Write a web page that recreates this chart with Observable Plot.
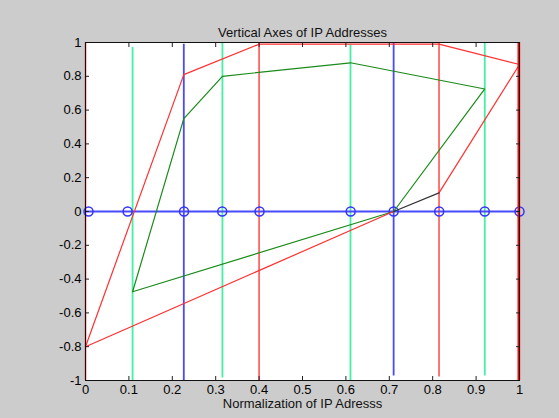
<!DOCTYPE html>
<html>
<head>
<meta charset="utf-8">
<script src="https://cdn.jsdelivr.net/npm/d3@7"></script>
<script src="https://cdn.jsdelivr.net/npm/@observablehq/plot@0.6"></script>
<style>
  html, body { margin: 0; padding: 0; background: #cccccc; }
  #chart svg { display: block; }
</style>
</head>
<body>
<div id="chart"></div>
<script>
// Vertical "axes" (one per IP address)
const axisX      = [0, 0.1085, 0.2265, 0.3155, 0.40, 0.6106, 0.710, 0.8146, 0.920, 1.0];
const axisColor  = ["red", "green", "blue", "green", "red", "green", "blue", "red", "green", "red"];
const axisTop    = [1, 0.97, 0.99, 1, 1, 0.99, 1, 1, 1, 1];
const axisBottom = [-1, -1, -1, -0.985, -1, -1, -0.973, -0.98, -0.973, -1];

// Markers on the horizontal zero line
const markerX = [0.007, 0.097, 0.227, 0.315, 0.401, 0.611, 0.710, 0.815, 0.920, 1.0];

// Polylines
const redX   = [0, 0.2265, 0.40, 0.8146, 1.0, 0.8146];
const redY   = [-0.8, 0.81, 0.99, 0.99, 0.87, 0.11];
const red2X  = [0.71, 0];
const red2Y  = [0, -0.8];
const blackX = [0.8146, 0.71];
const blackY = [0.11, 0];
const greenX = [0.1085, 0.2265, 0.3155, 0.6106, 0.92, 0.71, 0.1085];
const greenY = [-0.475, 0.55, 0.80, 0.88, 0.725, 0, -0.475];

const xTicks = [0, 0.1, 0.2, 0.3, 0.4, 0.5, 0.6, 0.7, 0.8, 0.9, 1];
const yTicks = [-1, -0.8, -0.6, -0.4, -0.2, 0, 0.2, 0.4, 0.6, 0.8, 1];

const title = "Vertical Axes of IP Addresses";
const xLabel = "Normalization of IP Adresss";

const colorMap = { red: "#ff6666", green: "#44f0a4", blue: "#4a4aff" };

const axes = axisX.map((x, i) => ({ x, y1: axisBottom[i], y2: axisTop[i], c: colorMap[axisColor[i]] }));
const markers = markerX.map(x => ({ x, y: 0 }));
const toPts = (xs, ys) => xs.map((x, i) => ({ x, y: ys[i] }));
const fmt = d => String(+d.toFixed(1));

const plot = Plot.plot({
  width: 559,
  height: 418,
  marginLeft: 85,
  marginRight: 40,
  marginTop: 42,
  marginBottom: 38,
  style: { background: "#cccccc", fontFamily: "Liberation Sans, Arial, sans-serif", fontSize: "13px", color: "#000" },
  x: { domain: [0, 1] },
  y: { domain: [-1, 1] },
  marks: [
    Plot.frame({ fill: "white", stroke: null }),
    Plot.ruleX(axes, { x: "x", y1: "y1", y2: "y2", stroke: "c", strokeWidth: 1.8 }),
    Plot.ruleY([0], { x1: 0, x2: 1, stroke: "#4a4aff", strokeWidth: 2 }),
    Plot.dot(markers, { x: "x", y: "y", r: 4.5, stroke: "#3333ff", strokeWidth: 1.5, fill: "none" }),
    Plot.line(toPts(greenX, greenY), { x: "x", y: "y", stroke: "#1a8a1a", strokeWidth: 1.2 }),
    Plot.line(toPts(redX, redY), { x: "x", y: "y", stroke: "#ff3030", strokeWidth: 1.2 }),
    Plot.line(toPts(red2X, red2Y), { x: "x", y: "y", stroke: "#ff3030", strokeWidth: 1.2 }),
    Plot.line(toPts(blackX, blackY), { x: "x", y: "y", stroke: "#333", strokeWidth: 1.2 }),
    Plot.ruleX([1], { y1: -1, y2: 1, stroke: "red", strokeWidth: 2, dx: -1 }),
    Plot.axisX(xTicks, { anchor: "bottom", tickSize: -4, tickPadding: 8, tickFormat: fmt, label: null, stroke: "#222", fontSize: 13 }),
    Plot.axisX(xTicks, { anchor: "top", tickSize: -4, tickFormat: () => "", label: null, stroke: "#222" }),
    Plot.axisY(yTicks, { anchor: "left", tickSize: -4, tickPadding: 8, tickFormat: fmt, label: null, stroke: "#222", fontSize: 13 }),
    Plot.axisY(yTicks, { anchor: "right", tickSize: -4, tickFormat: () => "", label: null, stroke: "#222" }),
    Plot.frame({ stroke: "#111", strokeWidth: 1 }),
    Plot.text([title], { frameAnchor: "top", dy: -15, text: d => d, fontSize: 13, fill: "#111" }),
    Plot.text([xLabel], { frameAnchor: "bottom", dy: 27, text: d => d, fontSize: 13, fill: "#111" })
  ]
});
document.getElementById("chart").appendChild(plot);
</script>
</body>
</html>
